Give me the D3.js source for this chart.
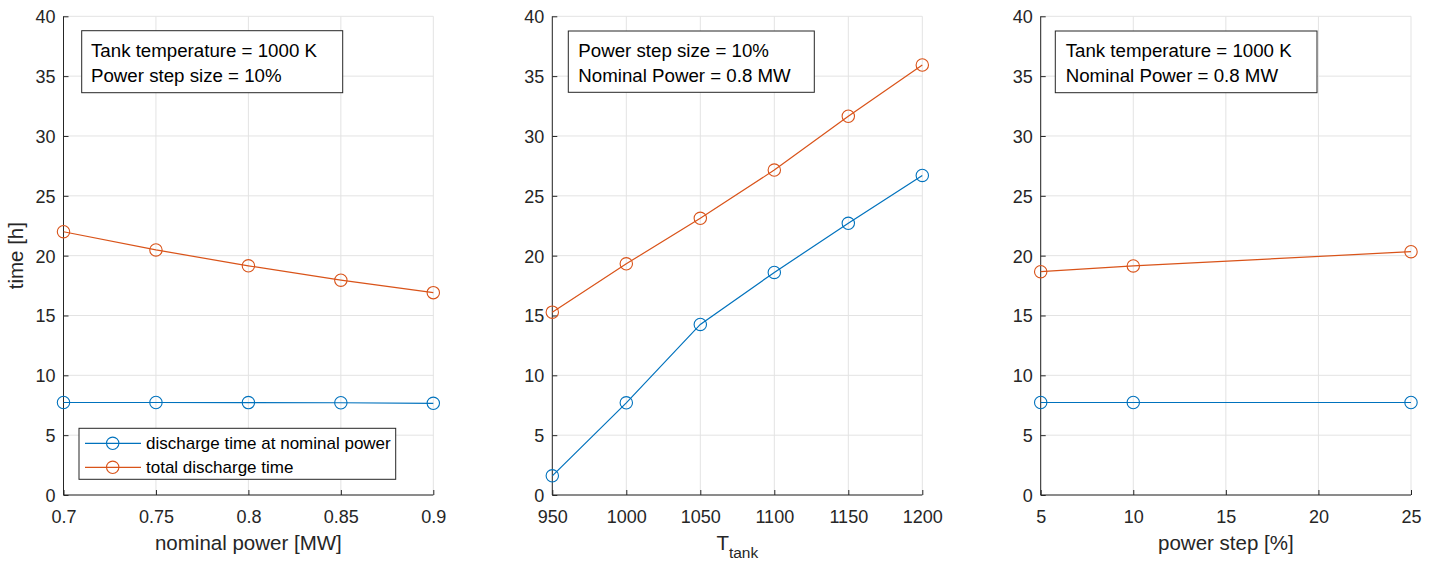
<!DOCTYPE html>
<html>
<head>
<meta charset="utf-8">
<script src="https://cdn.jsdelivr.net/npm/d3@7"></script>
<style>
  html, body { margin: 0; padding: 0; background: #fff; }
  svg { display: block; }
  text { font-family: "Liberation Sans", Arial, Helvetica, sans-serif; fill: #262626; }
</style>
</head>
<body>
<svg id="chart" width="1437" height="561"></svg>
<script>
// ---------- data ----------
const yTicks = [0, 5, 10, 15, 20, 25, 30, 35, 40];

const p1X = [0.7, 0.75, 0.8, 0.85, 0.9];
const p1Nominal = [7.73, 7.73, 7.72, 7.71, 7.66];
const p1Total = [22.0, 20.48, 19.15, 17.95, 16.91];
const p1Ticks = [0.7, 0.75, 0.8, 0.85, 0.9];
const p1TickLabels = ["0.7", "0.75", "0.8", "0.85", "0.9"];

const p2X = [950, 1000, 1050, 1100, 1150, 1200];
const p2Nominal = [1.6, 7.7, 14.25, 18.6, 22.7, 26.7];
const p2Total = [15.28, 19.32, 23.12, 27.15, 31.65, 35.93];
const p2Ticks = [950, 1000, 1050, 1100, 1150, 1200];
const p2TickLabels = ["950", "1000", "1050", "1100", "1150", "1200"];

const p3X = [5, 10, 25];
const p3Nominal = [7.73, 7.73, 7.73];
const p3Total = [18.66, 19.14, 20.33];
const p3Ticks = [5, 10, 15, 20, 25];
const p3TickLabels = ["5", "10", "15", "20", "25"];

const seriesNames = ["discharge time at nominal power", "total discharge time"];
const colors = ["#0072BD", "#D95319"];

const infoTexts = [
  ["Tank temperature = 1000 K", "Power step size = 10%"],
  ["Power step size = 10%", "Nominal Power = 0.8 MW"],
  ["Tank temperature = 1000 K", "Nominal Power = 0.8 MW"]
];

// ---------- layout ----------
const svg = d3.select("#chart");
const plotTop = 16.3, plotBottom = 495;
const panels = [
  { x0: 63.5, x1: 433.3, dom: [0.7, 0.9], xs: p1X, ys: [p1Nominal, p1Total], ticks: p1Ticks, labels: p1TickLabels,
    box: [81.7, 30.7, 342.7, 92.7], textX: 91, xlabel: "nominal power [MW]", legend: true },
  { x0: 552.3, x1: 922.3, dom: [950, 1200], xs: p2X, ys: [p2Nominal, p2Total], ticks: p2Ticks, labels: p2TickLabels,
    box: [568.3, 31, 814.3, 92.3], textX: 578.3, xlabel: null, legend: false },
  { x0: 1040.7, x1: 1411, dom: [5, 25], xs: p3X, ys: [p3Nominal, p3Total], ticks: p3Ticks, labels: p3TickLabels,
    box: [1055.3, 31, 1317, 92.7], textX: 1065.7, xlabel: "power step [%]", legend: false }
];

const y = d3.scaleLinear().domain([0, 40]).range([plotBottom, plotTop]);
const axisColor = "#262626";
const gridColor = "#e3e3e3";

panels.forEach((p, i) => {
  const x = d3.scaleLinear().domain(p.dom).range([p.x0, p.x1]);
  const g = svg.append("g");

  // grid
  g.append("g").selectAll("line").data(p.ticks).join("line")
    .attr("x1", d => x(d)).attr("x2", d => x(d))
    .attr("y1", plotTop).attr("y2", plotBottom)
    .attr("stroke", gridColor).attr("stroke-width", 1);
  g.append("g").selectAll("line").data(yTicks).join("line")
    .attr("x1", p.x0).attr("x2", p.x1)
    .attr("y1", d => y(d)).attr("y2", d => y(d))
    .attr("stroke", gridColor).attr("stroke-width", 1);

  // axes (ticks pointing inward)
  const xAxis = d3.axisBottom(x).tickValues(p.ticks)
    .tickFormat((d, k) => p.labels[k]).tickSizeInner(-5).tickSizeOuter(0).tickPadding(15);
  const xa = g.append("g").attr("transform", `translate(0,${plotBottom})`).call(xAxis);
  xa.select(".domain").attr("stroke", axisColor).attr("d", `M${p.x0},0H${p.x1}`);
  xa.selectAll(".tick line").attr("stroke", axisColor);
  xa.selectAll(".tick text").attr("font-size", 18).attr("fill", axisColor)
    .attr("dy", null).attr("y", 28);

  const yAxis = d3.axisLeft(y).tickValues(yTicks).tickSizeInner(-5).tickSizeOuter(0).tickPadding(8);
  const ya = g.append("g").attr("transform", `translate(${p.x0},0)`).call(yAxis);
  ya.select(".domain").attr("stroke", axisColor).attr("d", `M0,${plotTop}V${plotBottom}`);
  ya.selectAll(".tick line").attr("stroke", axisColor);
  ya.selectAll(".tick text").attr("font-size", 18).attr("fill", axisColor)
    .attr("x", -8).attr("dy", "0.36em");
  [xa, ya].forEach(a => a.attr("font-family", null));

  // series
  p.ys.forEach((vals, s) => {
    const pts = p.xs.map((xv, k) => [xv, vals[k]]);
    g.append("path").datum(pts)
      .attr("fill", "none").attr("stroke", colors[s]).attr("stroke-width", 1.2)
      .attr("d", d3.line().x(d => x(d[0])).y(d => y(d[1])));
    g.append("g").selectAll("circle").data(pts).join("circle")
      .attr("cx", d => x(d[0])).attr("cy", d => y(d[1])).attr("r", 6.2)
      .attr("fill", "none").attr("stroke", colors[s]).attr("stroke-width", 1.1);
  });

  // info box
  const [bx0, by0, bx1, by1] = p.box;
  g.append("rect").attr("x", bx0).attr("y", by0).attr("width", bx1 - bx0).attr("height", by1 - by0)
    .attr("fill", "#fff").attr("stroke", "#262626").attr("stroke-width", 1);
  infoTexts[i].forEach((t, k) => {
    g.append("text").attr("x", p.textX).attr("y", 56.8 + k * 25.3)
      .attr("font-size", 18.7).style("fill", "#000").text(t);
  });

  // x label
  const cx = (p.x0 + p.x1) / 2;
  if (p.xlabel) {
    g.append("text").attr("x", cx).attr("y", 550).attr("text-anchor", "middle")
      .attr("font-size", 20.5).text(p.xlabel);
  } else {
    const t = g.append("text").attr("x", cx).attr("y", 550).attr("text-anchor", "middle")
      .attr("font-size", 20.5);
    t.append("tspan").text("T");
    t.append("tspan").attr("font-size", 15.5).attr("dy", 8).text("tank");
  }

  // legend
  if (p.legend) {
    const lg = g.append("g");
    lg.append("rect").attr("x", 79).attr("y", 428.3).attr("width", 316.7).attr("height", 51)
      .attr("fill", "#fff").attr("stroke", "#262626").attr("stroke-width", 1);
    seriesNames.forEach((name, s) => {
      const cy = 443.3 + s * 24;
      lg.append("line").attr("x1", 85).attr("x2", 141).attr("y1", cy).attr("y2", cy)
        .attr("stroke", colors[s]).attr("stroke-width", 1.2);
      lg.append("circle").attr("cx", 112.7).attr("cy", cy).attr("r", 6.2)
        .attr("fill", "none").attr("stroke", colors[s]).attr("stroke-width", 1.1);
      lg.append("text").attr("x", 146).attr("y", cy + 6).attr("font-size", 17)
        .style("fill", "#000").text(name);
    });
  }
});

// y label
svg.append("text").attr("transform", `translate(23,${(plotTop + plotBottom) / 2}) rotate(-90)`)
  .attr("text-anchor", "middle").attr("font-size", 20.5).text("time [h]");
</script>
</body>
</html>
